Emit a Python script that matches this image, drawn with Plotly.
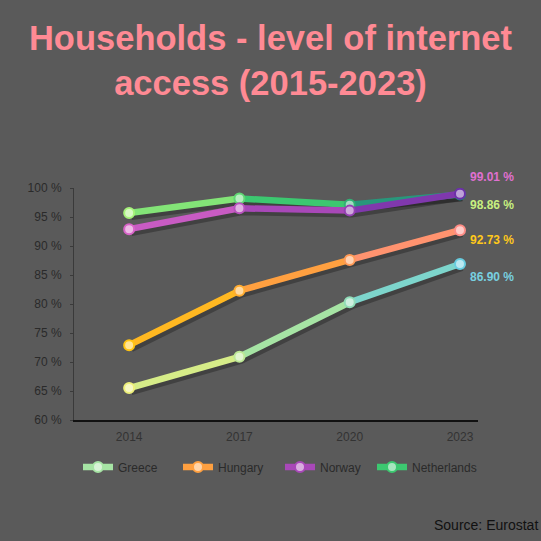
import plotly.graph_objects as go

years = [2014, 2017, 2020, 2023]
countries = ["Greece", "Hungary", "Norway", "Netherlands"]
greece = [65.5, 70.9, 80.3, 86.90]
hungary = [72.9, 82.3, 87.6, 92.73]
norway = [92.9, 96.5, 96.1, 99.01]
netherlands = [95.7, 98.2, 97.1, 98.86]
series = [greece, hungary, norway, netherlands]
end_labels = ["86.90 %", "92.73 %", "99.01 %", "98.86 %"]
y_ticks = [60, 65, 70, 75, 80, 85, 90, 95, 100]
y_tick_text = [f"{v} %" for v in y_ticks]

# styling
gradients = [
    ["#eef07a", "#a6e4a4", "#68cde0"],
    ["#ffc412", "#ffa040", "#ff8d86"],
    ["#d864c8", "#a848b8", "#6c30a8"],
    ["#a6f27a", "#3cc870", "#1e7f80"],
]
label_colors = ["#78d0e0", "#ffc81a", "#e070d0", "#c8f080"]
label_shift = [-13, -10, 17, -10]
legend_text_x = [118, 218, 320, 412]
draw_order = [0, 1, 3, 2]
BG = "#5a5a5a"


def hex2rgb(h):
    h = h.lstrip("#")
    return [int(h[i:i + 2], 16) for i in (0, 2, 4)]


def rgb2hex(c):
    return "#%02x%02x%02x" % tuple(int(round(v)) for v in c)


def grad(stops, t):
    n = len(stops) - 1
    i = min(int(t * n), n - 1)
    f = t * n - i
    a, b = hex2rgb(stops[i]), hex2rgb(stops[i + 1])
    return rgb2hex([a[k] + (b[k] - a[k]) * f for k in range(3)])


def tint(hexc, w=0.6):
    c = hex2rgb(hexc)
    return rgb2hex([v + (255 - v) * w for v in c])


fig = go.Figure()
nseg = len(years) - 1

# invisible trace so the base (visible) axes are drawn
fig.add_trace(go.Scatter(x=years, y=greece, mode="lines", line=dict(width=0),
                         opacity=0, hoverinfo="skip", showlegend=False))

# shadows (on offset axes)
for vals in series:
    fig.add_trace(go.Scatter(x=years, y=vals, mode="lines", xaxis="x2", yaxis="y2",
                             line=dict(color="rgba(0,0,0,0.28)", width=7),
                             hoverinfo="skip", showlegend=False))

legend_layouts = {}
# main gradient lines
for ci in draw_order:
    name, vals = countries[ci], series[ci]
    for s in range(nseg):
        col = grad(gradients[ci], (s + 0.5) / nseg)
        fig.add_trace(go.Scatter(x=years[s:s + 2], y=vals[s:s + 2], mode="lines",
                                 xaxis="x3", yaxis="y3",
                                 line=dict(color=col, width=6.5),
                                 legendgroup=name, showlegend=False, hoverinfo="skip"))
    pcols = [grad(gradients[ci], i / nseg) for i in range(len(years))]
    fig.add_trace(go.Scatter(x=years, y=vals, mode="markers", xaxis="x3", yaxis="y3",
                             marker=dict(size=10, color=[tint(c, 0.55) for c in pcols],
                                         line=dict(color=pcols, width=2)),
                             legendgroup=name, showlegend=False, name=name))
    # legend entry (one legend box per country)
    lname = "legend" if ci == 0 else f"legend{ci + 1}"
    mid = grad(gradients[ci], 0.5)
    fig.add_trace(go.Scatter(x=[None], y=[None], mode="lines+markers", name=name,
                             xaxis="x3", yaxis="y3", legend=lname,
                             line=dict(color=mid, width=6.5),
                             marker=dict(size=10, color=tint(mid, 0.55),
                                         line=dict(color=mid, width=2)),
                             legendgroup=name))
    legend_layouts[lname] = dict(orientation="h", xref="container", yref="container",
                                 x=(legend_text_x[ci] - 40) / 541, y=1 - 467 / 541,
                                 xanchor="left", yanchor="middle", bgcolor="rgba(0,0,0,0)",
                                 font=dict(size=12, color="#2a2a2a"))
    fig.add_annotation(x=years[-1], y=vals[-1], xref="x3", yref="y3", text=f"<b>{end_labels[ci]}</b>",
                       showarrow=False, xanchor="left", xshift=8, yshift=label_shift[ci],
                       font=dict(color=label_colors[ci], size=12, family="Liberation Sans"))

xr = [2012.5, 2023.49]
yr = [60, 100]
fig.update_layout(
    width=541, height=541,
    paper_bgcolor=BG, plot_bgcolor=BG,
    margin=dict(l=74, r=63, t=188, b=121, autoexpand=False),
    title=dict(text="<b>Households - level of internet<br>access (2015-2023)</b>",
               x=0.5, xanchor="center", y=0.9076, yanchor="middle", yref="container",
               font=dict(family="Liberation Sans", size=34.5, color="#ff8a94")),
    font=dict(family="Liberation Sans", size=12, color="#2a2a2a"),
    xaxis=dict(range=xr, tickvals=years, ticktext=[str(y) for y in years],
               showgrid=False, zeroline=False, showline=True, linecolor="#111", linewidth=1.5,
               ticks="", ticklabelstandoff=5, tickfont=dict(size=12, color="#333")),
    yaxis=dict(range=yr, tickvals=y_ticks, ticktext=y_tick_text, showgrid=False, zeroline=False,
               showline=True, linecolor="#3a3a3a", linewidth=1, ticks="outside", ticklen=3,
               tickcolor="#3a3a3a", ticklabelstandoff=6, tickfont=dict(size=12, color="#2a2a2a")),
    xaxis2=dict(range=[xr[0] - 0.06, xr[1] - 0.06], overlaying="x", visible=False),
    yaxis2=dict(range=[yr[0] + 0.6, yr[1] + 0.6], overlaying="y", visible=False),
    xaxis3=dict(range=xr, overlaying="x", visible=False),
    yaxis3=dict(range=yr, overlaying="y", visible=False),
    showlegend=True,
    **legend_layouts,
)
fig.add_annotation(text="Source: Eurostat", xref="paper", yref="paper",
                   x=(540 - 74) / 404, y=-(525 - 420) / 232,
                   xanchor="right", yanchor="middle", showarrow=False,
                   font=dict(size=14, color="#111"))

fig.write_html("out.html", config={"displayModeBar": False},
               post_script="document.body.style.margin='0';document.body.style.background='%s';" % BG)
